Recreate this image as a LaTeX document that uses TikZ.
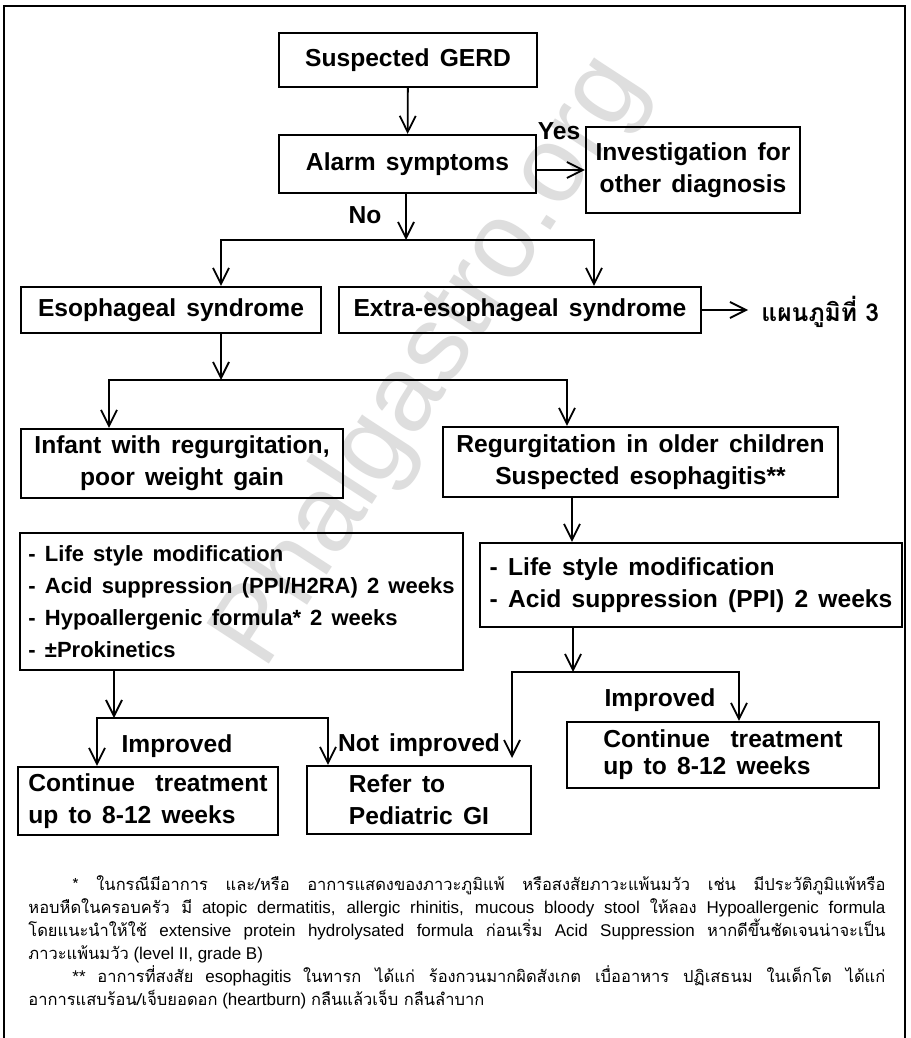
\documentclass[tikz,border=0pt]{standalone}
\usepackage{fontspec}
\setmainfont{Liberation Sans}
\newfontfamily\thaifont[Script=Thai]{Loma}
\newfontfamily\thainote[Script=Thai,Scale=0.97]{Loma}
\newfontfamily\boxfamily[WordSpace=1.5]{Liberation Sans}
\usetikzlibrary{arrows.meta}
\newcommand{\thai}[1]{{\thainote #1}}
\newcommand{\boxsize}{\fontsize{12.3}{16}\selectfont}

\begin{document}
\begin{tikzpicture}[x=0.5pt,y=-0.5pt,
    >={Straight Barb[length=8pt,width=8pt]},
    flowbox/.style={draw, line width=1.1pt, font=\boxfamily\bfseries\boxsize, align=center, inner sep=0pt},
    link/.style={->, line width=0.9pt},
    tag/.style={font=\boxfamily\bfseries\boxsize, inner sep=0pt},
    note/.style={anchor=base west, inner sep=0pt, font=\fontsize{8.5}{9}\selectfont},
    watermark/.style={rotate=57, text=black!13, font=\fontsize{54}{54}\selectfont}]
   \path[use as bounding box, fill=white] (0,0) rectangle (910,1038);
   \node[watermark] (mark) at (432,362) {Phalgastro.org};
   \draw[line width=1pt] (4,1045) -- (4,6) -- (905,6) -- (905,1045);

   % boxes
   \node[flowbox, minimum width=129pt, minimum height=27pt] (gerd) at (408,60) {Suspected GERD};
   \node[flowbox, minimum width=128.5pt, minimum height=29pt] (alarm) at (407.5,164) {Alarm symptoms};
   \node[flowbox, minimum width=107pt, minimum height=43pt] (invest) at (693,170) {Investigation for\\other diagnosis};
   \node[flowbox, minimum width=150pt, minimum height=23pt] (esoph) at (171,310) {Esophageal syndrome};
   \node[flowbox, minimum width=181pt, minimum height=23pt] (extra) at (520,310) {Extra-esophageal syndrome};
   \node[tag, anchor=west, font=\thaifont\bfseries\boxsize] (chart) at (761,312) {แผนภูมิที่ 3};
   \node[flowbox, minimum width=161pt, minimum height=34.5pt] (infant) at (182,463.5) {Infant with regurgitation,\\poor weight gain};
   \node[flowbox, minimum width=197.5pt, minimum height=35pt] (regurg) at (640.5,462) {Regurgitation in older children\\Suspected esophagitis**};
   \node[flowbox, align=left, font=\boxfamily\bfseries\fontsize{11}{16}\selectfont, minimum width=221.5pt, minimum height=68.5pt] (lefttx) at (241.5,601.5) {- Life style modification\\- Acid suppression (PPI/H2RA) 2 weeks\\- Hypoallergenic formula* 2 weeks\\- ±Prokinetics};
   \node[flowbox, align=left, minimum width=211pt, minimum height=42pt] (righttx) at (691,585) {- Life style modification\\- Acid suppression (PPI) 2 weeks};
   \node[flowbox, align=left, minimum width=130pt, minimum height=34pt] (cont1) at (148,801) {Continue \ treatment\\up to 8-12 weeks};
   \node[flowbox, align=left, minimum width=112pt, minimum height=34pt] (refer) at (419,800) {Refer to\\Pediatric GI};
   \node[flowbox, align=left, minimum width=156pt, minimum height=33pt] (cont2) at (723,755) {Continue \ treatment\\[-2.5pt]up to 8-12 weeks};

   % labels
   \node[tag] (yes) at (559,131) {Yes};
   \node[tag] (no) at (365,215) {No};
   \node[tag] (imp1) at (177,746) {Improved};
   \node[tag] (notimp) at (419,745) {Not improved};
   \node[tag] (imp2) at (660,700) {Improved};

   % split points
   \coordinate (s1) at (406,240);
   \coordinate (s1l) at (221,240);
   \coordinate (s1r) at (594,240);
   \coordinate (s2) at (221,380);
   \coordinate (s2l) at (109,380);
   \coordinate (s2r) at (567,380);
   \coordinate (c3) at (572,520);
   \coordinate (s3) at (114,718);
   \coordinate (s3l) at (97,718);
   \coordinate (s3r) at (328,718);
   \coordinate (s4) at (573,672);
   \coordinate (s4l) at (512,672);
   \coordinate (s4r) at (739,672);
   \coordinate (s4end) at (512,758);

   % connectors
   \draw[link] (gerd) -- (alarm);
   \draw[link] (alarm.east |- invest.west) -- (invest.west);
   \draw[link] (s1 |- alarm.south) -- (s1);
   \draw[link, <->] (s1l |- esoph.north) -- (s1l) -- (s1r) -- (s1r |- extra.north);
   \draw[link] (extra.east) -- ([xshift=-6.5pt]extra.east -| chart.west);
   \draw[link] (s2 |- esoph.south) -- (s2);
   \draw[link, <->] (s2l |- infant.north) -- (s2l) -- (s2r) -- (s2r |- regurg.north);
   \draw[link] (c3 |- regurg.south) -- (c3 |- righttx.north);
   \draw[link] (s3 |- lefttx.south) -- (s3);
   \draw[link, <->] (s3l |- cont1.north) -- (s3l) -- (s3r) -- (s3r |- refer.north);
   \draw[link] (s4 |- righttx.south) -- (s4);
   \draw[link, <->] (s4end) -- (s4l) -- (s4r) -- (s4r |- cont2.north);

   % footnotes
   \node[note] (fn1) at (72,890) {\makebox[406.5pt][s]{\thai{* ในกรณีมีอาการ และ/หรือ อาการแสดงของภาวะภูมิแพ้ หรือสงสัยภาวะแพ้นมวัว เช่น มีประวัติภูมิแพ้หรือ}}};
   \node[note] (fn2) at (28,913) {\makebox[428.5pt][s]{\thai{หอบหืดในครอบครัว มี} atopic dermatitis, allergic rhinitis, mucous bloody stool \thai{ให้ลอง} Hypoallergenic formula}};
   \node[note] (fn3) at (28,936) {\makebox[428.5pt][s]{\thai{โดยแนะนำให้ใช้} extensive protein hydrolysated formula \thai{ก่อนเริ่ม} Acid Suppression \thai{หากดีขึ้นชัดเจนน่าจะเป็น}}};
   \node[note] (fn4) at (28,959) {\thai{ภาวะแพ้นมวัว} (level II, grade B)};
   \node[note] (fn5) at (72,982) {\makebox[406.5pt][s]{** \thai{อาการที่สงสัย} esophagitis \thai{ในทารก ได้แก่ ร้องกวนมากผิดสังเกต เบื่ออาหาร ปฏิเสธนม ในเด็กโต ได้แก่}}};
   \node[note] (fn6) at (28,1005) {\thai{อาการแสบร้อน/เจ็บยอดอก} (heartburn) \thai{กลืนแล้วเจ็บ กลืนลำบาก}};
\end{tikzpicture}
\end{document}
